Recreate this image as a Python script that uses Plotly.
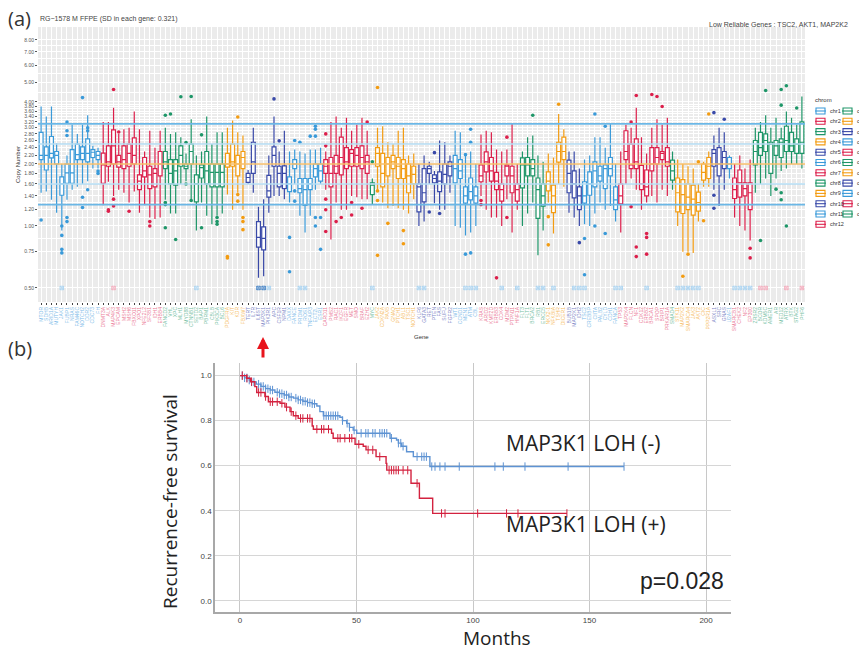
import bisect
import math
import plotly.graph_objects as go

W, H = 859, 648
def px(x): return x / W
def py(y): return 1 - y / H

# ---------------- panel (a) data ----------------
chrom_order = ['chr1','chr2','chr3','chr4','chr5','chr6','chr7','chr8','chr9','chr10','chr11','chr12',
               'chr13','chr14','chr15','chr16','chr17','chr18','chr19','chr20','chr21','chr22','chrX']
palette = ['#3A9AD9', '#DC1F4B', '#1E9668', '#F39C12', '#3949A8']
label_palette = ['#7FBDE9', '#EB7C97', '#76C0A3', '#F6BE66', '#8089C7']

gene_names = [
 'MTOR','SDHB','ARID1A','MUTYH','JAK1','FUBP1','NRAS','FAM46C','NOTCH2','DDR2','CDC73','FH',
 'DNMT3A','ALK','MAP4K3','EPCAM','MSH2','MSH6','FBXO11','XPO1','NFE2L2','SF3B1','IDH1','ERBB4',
 'FANCD2','VHL','XPC','MLH1','MYD88','CTNNB1','SETD2','BAP1','PBRM1','CBLB','PIK3CA','BCL6',
 'PDGFRA','KIT','KDR','FBXW7',
 'TERT','IL7R','IL6ST','MAP3K1','PIK3R1','APC','CSF1R','NPM1',
 'DAXX','FANCE','PRDM1','ROS1','TNFAIP3','ECT2L','ESR1',
 'CARD11','PMS2','RAC1','IKZF1','EGFR','MET','SMO','BRAF','EZH2',
 'MYC',
 'JAK2','CDKN2A','PAX5','GNAQ','PTCH1','ABL1','TSC1','NOTCH1',
 'KLF6','GATA3','RET','PTEN','FAS','SUFU','FGFR2',
 'WT1','CCND1','MEN1','ATM','CBL',
 'KRAS','ARID2','KMT2D','ERBB3','CDK4','MDM2','PTPN11','HNF1A',
 'FLT3','FLT1','BRCA2','RB1','ERCC5',
 'NKX2-1','NFKBIA','TSHR','DICER1',
 'BUB1B','MAP2K1','IDH2',
 'TSC2','CREBBP','CIITA','PALB2','CYLD','CDH1','FANCA',
 'TP53','MAP2K4','FLCN','NF1','CDK12','ERBB2','BRCA1','SPOP','BRIP1','PRKAR1A',
 'SMAD4',
 'STK11','MAP2K2','SMARCA4','JAK3','AKT2','CIC','PPP2R1A',
 'ASXL1','SRC','GNAS',
 'U2AF1',
 'SMARCB1','CHEK2','NF2','EP300',
 'ZRSR2','BCOR','KDM5C','AMER1','AR','MED12','ATRX','BTK','STAG2','PHF6']

gene_chrom = (['chr1']*12 + ['chr2']*12 + ['chr3']*12 + ['chr4']*4 + ['chr5']*8 + ['chr6']*7 +
              ['chr7']*9 + ['chr8']*1 + ['chr9']*8 + ['chr10']*7 + ['chr11']*5 + ['chr12']*8 +
              ['chr13']*5 + ['chr14']*4 + ['chr15']*3 + ['chr16']*7 + ['chr17']*10 + ['chr18']*1 +
              ['chr19']*7 + ['chr20']*3 + ['chr21']*1 + ['chr22']*4 + ['chrX']*10)

lower_whisker = [
 1.45,1.47,1.34,1.16,0.95,1.34,1.50,1.55,1.60,1.65,1.90,1.90,
 1.26,1.64,1.40,1.50,1.45,1.30,1.47,1.16,1.26,1.10,1.08,1.10,
 1.34,1.15,1.15,1.60,1.65,1.35,0.95,1.30,1.12,1.02,1.12,1.15,
 1.42,1.20,1.45,1.20,
 1.60,1.45,0.56,0.57,1.16,1.40,1.40,1.35,
 1.30,1.60,1.12,0.93,1.12,1.50,1.60,
 1.50,0.86,1.30,1.20,1.20,1.40,1.38,1.35,1.35,
 1.28,
 1.50,1.30,1.22,1.25,1.22,1.20,1.15,1.35,
 1.00,1.05,1.60,1.29,1.20,1.20,1.45,
 1.00,0.98,0.90,0.93,1.00,
 1.40,1.20,1.10,1.10,1.00,1.35,0.93,1.20,
 1.00,1.15,1.30,0.72,0.95,
 1.30,0.92,1.60,1.55,
 1.16,1.10,1.00,
 1.02,1.00,1.15,1.30,1.20,1.25,1.05,
 0.93,1.60,1.70,1.50,1.20,1.30,1.40,1.30,1.50,1.40,
 1.50,
 1.00,0.75,0.75,0.74,1.05,1.55,1.55,
 1.50,1.25,1.50,
 1.70,
 1.10,1.00,0.95,0.85,
 1.45,1.60,1.70,1.40,1.70,1.85,1.90,2.00,2.00,1.90]

q1_vals = [
 2.10,1.87,2.14,2.00,1.41,1.61,1.61,2.10,2.10,2.05,2.15,2.10,
 1.61,1.95,2.00,1.93,1.90,1.95,2.00,1.50,1.73,1.52,1.55,1.75,
 1.90,1.60,1.58,1.95,1.90,2.00,1.31,1.71,1.60,1.55,1.55,1.55,
 1.93,1.95,1.75,1.90,
 1.63,1.80,0.79,0.765,1.38,1.95,1.55,1.52,
 1.47,1.90,1.45,1.26,1.50,1.73,1.65,
 1.80,1.55,1.80,1.77,1.90,1.95,1.95,1.90,1.80,
 1.42,
 1.95,1.55,1.75,1.90,1.70,1.70,1.45,1.60,
 1.17,1.31,1.80,1.62,1.47,1.60,1.75,
 1.62,1.70,1.29,1.34,1.29,
 1.64,1.83,1.65,1.50,1.32,1.75,1.45,1.32,
 1.53,1.75,1.75,1.09,1.25,
 1.48,1.16,2.04,2.10,
 1.45,1.37,1.20,
 1.29,1.41,1.55,1.65,1.52,1.75,1.20,
 1.28,2.10,1.90,1.90,1.50,1.40,1.85,2.00,2.10,1.95,
 1.67,
 1.17,1.15,1.20,1.13,1.18,1.67,1.70,
 1.95,1.75,1.90,
 1.90,
 1.36,1.38,1.40,1.20,
 1.98,2.20,2.30,1.80,2.20,2.15,2.30,2.30,2.25,2.25]

median_vals = [
 2.20,2.20,2.25,2.20,1.60,1.81,1.81,2.22,2.25,2.25,2.28,2.20,
 1.98,2.05,2.45,2.05,2.10,2.25,2.20,1.65,1.85,1.77,1.80,2.00,
 2.05,1.80,1.85,2.20,1.95,2.30,1.60,1.92,1.85,1.82,1.82,1.82,
 2.00,2.05,2.00,2.15,
 1.72,2.05,0.88,0.87,1.48,2.20,1.80,1.80,
 1.60,2.00,1.52,1.50,1.60,1.90,1.85,
 1.95,1.80,1.95,2.15,2.05,2.25,2.20,2.15,2.05,
 1.58,
 2.25,1.80,2.00,2.05,1.95,1.90,1.75,1.78,
 1.55,1.45,1.90,1.70,1.65,1.78,1.95,
 1.90,1.85,1.40,1.47,1.40,
 1.75,2.05,1.85,1.65,1.50,1.95,1.75,1.50,
 1.98,1.98,1.90,1.50,1.40,
 1.65,1.40,2.30,2.30,
 1.80,1.60,1.40,
 1.40,1.60,1.85,1.75,1.90,1.90,1.34,
 1.40,2.30,1.98,2.05,1.60,1.55,2.00,2.15,2.25,2.05,
 1.85,
 1.45,1.42,1.38,1.35,1.30,1.82,1.95,
 2.25,2.00,2.15,
 2.00,
 1.50,1.62,1.52,1.45,
 2.30,2.40,2.60,2.50,2.45,2.55,2.60,2.45,2.50,2.55]

q3_vals = [
 2.85,2.42,2.72,2.30,1.73,2.00,2.35,2.50,2.42,2.65,2.35,2.30,
 2.26,2.45,2.93,2.20,2.45,2.50,2.68,1.77,2.15,1.95,1.90,2.30,
 2.30,2.10,2.10,2.45,2.00,2.50,1.77,1.98,2.30,2.00,2.00,2.00,
 2.25,2.50,2.20,2.30,
 1.80,2.55,1.05,0.99,1.76,2.42,1.95,1.96,
 1.73,2.10,1.70,1.70,1.70,2.00,2.00,
 2.10,2.15,2.20,2.70,2.40,2.35,2.40,2.45,2.20,
 1.62,
 2.40,2.25,2.15,2.20,2.15,2.10,2.00,1.95,
 1.60,1.90,1.95,1.77,1.83,2.00,2.05,
 2.20,2.10,1.55,1.71,1.55,
 1.98,2.29,2.15,1.82,1.60,1.98,1.95,1.60,
 2.14,2.15,2.10,1.71,1.60,
 1.83,1.58,2.55,2.70,
 2.09,1.85,1.55,
 1.64,1.83,2.05,1.95,1.98,2.15,1.55,
 1.60,2.90,2.50,2.65,1.97,1.87,2.40,2.40,2.30,2.40,
 2.09,
 1.71,1.68,1.60,1.58,1.46,2.00,2.15,
 2.35,2.40,2.30,
 2.15,
 1.71,1.87,1.62,1.62,
 2.60,2.85,2.80,2.55,2.60,2.65,3.05,2.85,2.65,3.20]

upper_whisker = [
 3.80,3.40,3.80,2.52,2.00,2.20,3.10,2.80,3.10,3.45,2.45,2.40,
 3.20,3.20,3.75,2.80,2.95,3.00,3.60,2.95,2.30,2.90,2.40,2.90,
 3.00,2.80,2.85,2.70,2.25,3.30,2.20,2.30,3.40,2.50,2.85,2.85,
 3.00,3.25,2.85,2.75,
 1.87,3.00,1.24,1.35,2.20,3.40,2.30,2.90,
 2.30,2.35,2.30,2.25,2.35,2.35,2.40,
 2.30,3.20,3.40,3.00,3.35,2.90,3.10,3.35,2.90,
 1.70,
 3.00,3.05,2.55,2.50,2.90,3.00,2.20,2.25,
 2.00,2.20,2.05,1.85,2.60,2.55,2.20,
 2.90,2.85,2.20,2.30,2.00,
 2.78,2.90,2.85,2.35,2.30,2.35,3.15,2.00,
 2.30,2.70,2.75,2.20,2.05,
 2.25,2.15,3.50,2.95,
 2.30,2.30,1.90,
 2.10,2.20,2.70,2.70,2.40,3.15,2.00,
 2.30,3.10,3.00,3.75,2.70,2.25,3.00,3.30,3.10,3.35,
 2.30,
 2.10,2.00,1.95,1.90,1.60,2.05,2.30,
 2.75,3.00,2.85,
 2.20,
 2.00,2.20,1.90,2.10,
 3.00,3.20,3.45,3.00,3.35,3.00,3.60,3.35,3.10,4.25]

outlier_genes = [
 'MTOR','JAK1','JAK1','JAK1','JAK1','FUBP1','FUBP1','FUBP1','FUBP1','FUBP1',
 'NOTCH2','NOTCH2','NOTCH2','DDR2','DDR2','DDR2','FH','FH',
 'ALK','ALK','MAP4K3','MAP4K3','MAP4K3','EPCAM','MSH6','SF3B1','SF3B1',
 'FANCD2','FANCD2','FANCD2','FANCD2','VHL','XPC','MLH1','MYD88','MYD88','CTNNB1','CTNNB1',
 'BAP1','BAP1','PIK3CA','PIK3CA','PIK3CA',
 'PDGFRA','PDGFRA','KDR','KDR','KDR','FBXW7','FBXW7','FBXW7',
 'APC','CSF1R',
 'DAXX','DAXX','FANCE','FANCE','FANCE','PRDM1','TNFAIP3','ECT2L','ECT2L','ECT2L','ECT2L','ECT2L',
 'ESR1','ESR1',
 'CARD11','CARD11','CARD11','CARD11','CARD11','RAC1','IKZF1','MET','MET','BRAF','EZH2',
 'MYC',
 'JAK2','JAK2','JAK2','JAK2','PAX5','ABL1','ABL1',
 'RET','PTEN','FAS',
 'MEN1','MEN1','ATM','ATM','ATM',
 'KRAS','KRAS','ERBB3','MDM2','MDM2',
 'BRCA2',
 'NKX2-1','NKX2-1','TSHR',
 'IDH2',
 'TSC2','TSC2','CIITA','CIITA','CYLD','CYLD',
 'FLCN','FLCN','NF1','NF1','NF1','ERBB2','ERBB2','ERBB2','BRCA1','SPOP','BRIP1',
 'MAP2K2','SMARCA4','AKT2','CIC','PPP2R1A',
 'ASXL1','ASXL1','ASXL1','GNAS',
 'EP300','EP300',
 'BCOR','KDM5C','AR','MED12','MED12','MED12','MED12','ATRX','ATRX','STAG2']
outlier_values = [
 1.07,1.00,0.90,0.77,0.74,3.20,2.90,2.75,1.10,1.05,
 4.20,1.38,1.23,3.00,2.90,1.50,1.85,1.80,
 1.20,1.18,4.60,1.35,1.25,2.86,1.18,1.05,1.00,
 3.45,1.30,1.27,0.98,3.50,0.86,4.24,2.54,1.60,4.25,1.33,
 2.77,0.98,1.10,1.05,1.02,
 0.71,0.70,3.38,1.42,1.32,1.10,1.05,0.96,
 4.14,2.59,
 0.88,0.60,2.60,1.48,1.32,2.55,2.73,3.05,2.95,2.73,1.10,1.00,
 1.10,0.77,
 2.80,2.45,1.35,1.20,0.94,1.05,1.10,1.30,1.13,1.22,3.20,
 2.05,
 4.70,1.48,1.33,0.72,1.03,0.95,0.82,
 1.17,2.27,1.15,
 0.73,2.22,0.74,2.95,2.55,
 1.33,1.27,0.56,2.70,1.10,
 3.45,
 1.11,0.81,3.90,
 0.83,
 0.87,0.58,3.50,1.00,3.05,0.92,
 3.20,1.24,4.30,0.79,0.71,0.92,0.88,0.73,4.35,4.25,3.80,
 0.57,0.73,2.05,1.06,3.50,
 3.55,1.41,1.22,3.30,
 0.78,0.70,
 0.85,4.55,1.51,4.60,3.86,1.45,1.34,4.80,1.00,3.74]

# genes with no reliable value, drawn as squares at the 0.50 floor
na_genes_light = ['JAK1','SETD2','PIK3R1','PRDM1','ROS1','MYC','KLF6','GATA3','MEN1','ATM','CBL','CDK4',
                  'HNF1A','RB1','ERCC5','NFKBIA','MAP2K1','IDH2','TSC2','FANCA','TP53','ERBB2',
                  'STK11','MAP2K2','SMARCA4','JAK3','AKT2','SMARCB1','CHEK2','NF2','EP300']
na_genes_dark = ['IL6ST','MAP3K1']
na_genes_pink = ['MAP4K3','BCOR','KDM5C','ATRX','PHF6']
na_floor = 0.5

ref_lines = [3.13, 2.5, 2.0, 1.6, 1.27]
ref_colors = ['#6BB7E6', '#B5DCF3', '#F6BE6A', '#B5DCF3', '#6BB7E6']
ref_widths = [1.6, 1.4, 1.4, 1.4, 1.6]

y_ticks = [0.5, 0.75, 1.0, 1.2, 1.4, 1.6, 1.8, 2.0, 2.2, 2.4, 2.6, 2.8, 3.0, 3.2, 3.4, 3.6, 3.8, 4.0, 5.0, 6.0, 7.0, 8.0]

# ---------------- panel (b) data ----------------
neg_times = [0, 2, 4, 5, 7, 9, 11, 13, 15, 17, 19, 21, 23, 25, 27, 29, 31, 33, 34.3, 35.8, 42.9, 44, 45.8,
             47, 48.6, 50.1, 64.4, 67.2, 68, 69.4, 71.5, 74.4, 81.5]
neg_surv = [1.0, 0.99, 0.98, 0.972, 0.962, 0.952, 0.942, 0.936, 0.926, 0.92, 0.914, 0.905, 0.9, 0.892,
            0.886, 0.88, 0.875, 0.865, 0.84, 0.822, 0.815, 0.80, 0.788, 0.77, 0.758, 0.744, 0.722, 0.714,
            0.70, 0.686, 0.662, 0.64, 0.596]
neg_end = 164.8
neg_censor = [1, 2, 3, 4, 5, 6, 8, 9, 10, 11, 12, 13, 14, 16, 17, 18, 19, 20, 21, 22, 24, 25, 26, 27, 28,
              29, 30, 31, 32, 36, 37, 38, 39, 40, 41, 42, 44, 46, 47, 49, 52, 54, 55, 57, 58, 60, 61, 62,
              63, 65, 68, 69, 70, 76, 78, 79, 80, 82.3, 83.7, 85.8, 88, 94.1, 109.4, 113, 122.3, 140.8, 164.8]

pos_times = [0, 2.9, 4.5, 6.4, 7.2, 10.7, 12.2, 17.2, 19.3, 21.5, 22.9, 25, 31, 31.5, 39.3, 40, 49.4,
             52.9, 54.1, 58.4, 62.7, 63, 73.4, 77, 82.7]
pos_surv = [1.0, 0.988, 0.973, 0.951, 0.925, 0.907, 0.884, 0.877, 0.86, 0.84, 0.822, 0.81, 0.776, 0.762,
            0.744, 0.722, 0.695, 0.686, 0.67, 0.64, 0.61, 0.58, 0.522, 0.455, 0.388]
pos_end = 140.3
pos_censor = [1, 3, 5, 8, 9, 11, 13, 14, 16, 18, 20, 22, 24, 26, 27, 29, 30, 33, 35, 36, 38, 42, 43, 45,
              47, 48, 51, 55, 57, 60, 64, 65, 66, 67, 68, 70, 72, 76, 86.5, 88, 102, 114.4, 119.3, 140.3]

# ---------------- build figure ----------------
fig = go.Figure()
chrom_color = {c: palette[i % 5] for i, c in enumerate(chrom_order)}
chrom_label_color = {c: label_palette[i % 5] for i, c in enumerate(chrom_order)}

for c in chrom_order:
    idx = [i for i, g in enumerate(gene_chrom) if g == c]
    fig.add_trace(go.Box(
        x=[gene_names[i] for i in idx],
        q1=[q1_vals[i] for i in idx], median=[median_vals[i] for i in idx],
        q3=[q3_vals[i] for i in idx], lowerfence=[lower_whisker[i] for i in idx],
        upperfence=[upper_whisker[i] for i in idx],
        width=0.75, whiskerwidth=0, boxpoints=False,
        line=dict(color=chrom_color[c], width=1.2), fillcolor='rgba(255,255,255,0.85)',
        showlegend=False, xaxis='x', yaxis='y', hoverinfo='skip'))

gene_to_chrom = dict(zip(gene_names, gene_chrom))
for c in chrom_order:
    xs = [g for g, v in zip(outlier_genes, outlier_values) if gene_to_chrom[g] == c]
    ys = [v for g, v in zip(outlier_genes, outlier_values) if gene_to_chrom[g] == c]
    if xs:
        fig.add_trace(go.Scatter(x=xs, y=ys, mode='markers', marker=dict(color=chrom_color[c], size=3.6),
                                 showlegend=False, xaxis='x', yaxis='y', hoverinfo='skip'))

for genes, col in [(na_genes_light, '#A9D4F2'), (na_genes_dark, '#3E7FC4'), (na_genes_pink, '#F4AABB')]:
    fig.add_trace(go.Scatter(x=genes, y=[na_floor]*len(genes), mode='markers',
                             marker=dict(symbol='square-x-open', color=col, size=3.5, line=dict(width=0.9, color=col)),
                             showlegend=False, xaxis='x', yaxis='y', hoverinfo='skip'))

# KM curves
def km_trace(times, surv, end, color):
    return go.Scatter(x=times + [end], y=surv + [surv[-1]], mode='lines', line=dict(color=color, width=1.4, shape='hv'),
                      showlegend=False, xaxis='x2', yaxis='y2', hoverinfo='skip')

def censor_trace(times, surv, ctimes, color):
    ys = [surv[max(0, bisect.bisect_right(times, t) - 1)] for t in ctimes]
    return go.Scatter(x=ctimes, y=ys, mode='markers',
                      marker=dict(symbol='line-ns', size=6, line=dict(width=1, color=color)),
                      showlegend=False, xaxis='x2', yaxis='y2', hoverinfo='skip')

blue, red = '#5E93D3', '#D3223F'
fig.add_trace(km_trace(neg_times, neg_surv, neg_end, blue))
fig.add_trace(censor_trace(neg_times, neg_surv, neg_censor, blue))
fig.add_trace(km_trace(pos_times, pos_surv, pos_end, red))
fig.add_trace(censor_trace(pos_times, pos_surv, pos_censor, red))

ticktext = ['<span style="color:%s">%s</span>' % (chrom_label_color[c], g) for g, c in zip(gene_names, gene_chrom)]
minor_vals = [math.sqrt(a * b) for a, b in zip(y_ticks[:-1], y_ticks[1:])]

shapes = [
    dict(type='rect', xref='x domain', yref='y domain', x0=0, x1=1, y0=0, y1=1,
         fillcolor='#EBEBEB', line=dict(width=0), layer='below'),
]
for v, c, w in zip(ref_lines, ref_colors, ref_widths):
    shapes.append(dict(type='line', xref='x domain', yref='y', x0=0, x1=1, y0=v, y1=v,
                       line=dict(color=c, width=w), layer='above'))

# manual chromosome legend
leg_x = [816, 843]
for k, c in enumerate(chrom_order):
    col = k // 12
    row = k % 12
    yc = 111 + 10.3 * row
    x0 = leg_x[col]
    shapes.append(dict(type='rect', xref='paper', yref='paper', x0=px(x0), x1=px(x0 + 9),
                       y0=py(yc + 3), y1=py(yc - 3), line=dict(color=chrom_color[c], width=1.1),
                       fillcolor='white'))
    shapes.append(dict(type='line', xref='paper', yref='paper', x0=px(x0 - 1), x1=px(x0 + 10),
                       y0=py(yc), y1=py(yc), line=dict(color=chrom_color[c], width=1.1)))

annotations = []
for k, c in enumerate(chrom_order):
    col = k // 12
    row = k % 12
    yc = 111 + 10.3 * row
    annotations.append(dict(xref='paper', yref='paper', x=px(leg_x[col] + 12), y=py(yc), text=c,
                            showarrow=False, xanchor='left', yanchor='middle',
                            font=dict(size=5.5, color='#333', family='Liberation Sans')))
annotations += [
    dict(xref='paper', yref='paper', x=px(813), y=py(100), text='chrom', showarrow=False,
         xanchor='left', yanchor='middle', font=dict(size=6, color='#333', family='Liberation Sans')),
    dict(xref='paper', yref='paper', x=px(6), y=py(18), text='(a)', showarrow=False,
         xanchor='left', yanchor='middle', font=dict(size=20, color='#333', family='Open Sans')),
    dict(xref='paper', yref='paper', x=px(6), y=py(348), text='(b)', showarrow=False,
         xanchor='left', yanchor='middle', font=dict(size=20, color='#333', family='Open Sans')),
    dict(xref='paper', yref='paper', x=px(38), y=py(19), text='RG\u22121578 M FFPE (SD in each gene: 0.321)',
         showarrow=False, xanchor='left', yanchor='middle', font=dict(size=7, color='#444', family='Liberation Sans')),
    dict(xref='paper', yref='paper', x=px(850), y=py(25), text='Low Reliable Genes : TSC2, AKT1, MAP2K2',
         showarrow=False, xanchor='right', yanchor='middle', font=dict(size=7, color='#444', family='Liberation Sans')),
    dict(xref='paper', yref='paper', x=px(18), y=py(165), text='Copy Number', textangle=-90,
         showarrow=False, xanchor='center', yanchor='middle', font=dict(size=6, color='#333', family='Liberation Sans')),
    dict(xref='paper', yref='paper', x=px(421), y=py(337), text='Gene',
         showarrow=False, xanchor='center', yanchor='middle', font=dict(size=6, color='#333', family='Liberation Sans')),
    dict(xref='paper', yref='paper', x=px(263), y=py(337), ax=0, ay=22, text='', showarrow=True,
         arrowhead=2, arrowsize=0.8, arrowwidth=3, arrowcolor='#E8141C'),
    dict(xref='paper', yref='paper', x=px(170), y=py(502), text='Recurrence-free survival', textangle=-90,
         showarrow=False, xanchor='center', yanchor='middle', font=dict(size=19, color='#222', family='Open Sans')),
    dict(xref='paper', yref='paper', x=px(497), y=py(638), text='Months',
         showarrow=False, xanchor='center', yanchor='middle', font=dict(size=19, color='#222', family='Open Sans')),
    dict(xref='paper', yref='paper', x=px(504), y=py(443), text='MAP3K1 LOH (-)',
         showarrow=False, xanchor='left', yanchor='middle', font=dict(size=21, color='#222', family='Open Sans')),
    dict(xref='paper', yref='paper', x=px(504), y=py(524), text='MAP3K1 LOH (+)',
         showarrow=False, xanchor='left', yanchor='middle', font=dict(size=21, color='#222', family='Open Sans')),
    dict(xref='paper', yref='paper', x=px(726), y=py(581), text='p=0.028',
         showarrow=False, xanchor='right', yanchor='middle', font=dict(size=23, color='#222', family='Liberation Sans')),
]

fig.update_layout(
    width=W, height=H, paper_bgcolor='white', plot_bgcolor='rgba(0,0,0,0)',
    margin=dict(l=0, r=0, t=0, b=0, autoexpand=False),
    boxmode='overlay', showlegend=False,
    shapes=shapes, annotations=annotations,
    xaxis=dict(domain=[px(38), px(805)], anchor='y', type='category', categoryorder='array',
               categoryarray=gene_names, tickmode='array', tickvals=gene_names, ticktext=ticktext,
               tickangle=-90, tickfont=dict(size=5, family='Liberation Sans'), range=[-0.6, 147.6],
               showgrid=True, gridcolor='white', gridwidth=0.8, ticks='outside', ticklen=2,
               tickcolor='#444', tickwidth=0.6, showline=False, zeroline=False),
    yaxis=dict(domain=[py(302), py(27)], anchor='x', type='log',
               range=[math.log10(0.4275), math.log10(9.25)], tickmode='array', tickvals=y_ticks,
               ticktext=['%.2f' % v for v in y_ticks], tickfont=dict(size=5, color='#555', family='Liberation Sans'),
               showgrid=True, gridcolor='white', gridwidth=0.8, ticks='outside', ticklen=2,
               tickcolor='#555', tickwidth=0.6, zeroline=False, showline=False,
               minor=dict(tickmode='array', tickvals=minor_vals, showgrid=True, gridcolor='white', gridwidth=0.4)),
    xaxis2=dict(domain=[px(215), px(731)], anchor='y2', range=[-10.7, 210.7], tickmode='array',
                tickvals=[0, 50, 100, 150, 200], ticks='', tickfont=dict(size=8, color='#444', family='Liberation Sans'),
                showgrid=True, gridcolor='#C8C8C8', gridwidth=1.3, zeroline=False,
                showline=True, linecolor='#A8A8A8', linewidth=1.5),
    yaxis2=dict(domain=[py(612), py(363)], anchor='x2', range=[-0.05, 1.056], tickmode='array',
                tickvals=[0, 0.2, 0.4, 0.6, 0.8, 1.0], ticktext=['0.0', '0.2', '0.4', '0.6', '0.8', '1.0'],
                ticks='', tickfont=dict(size=8, color='#444', family='Liberation Sans'),
                showgrid=True, gridcolor='#D6D6D6', gridwidth=1.2, zeroline=False,
                showline=True, linecolor='#A8A8A8', linewidth=1.5),
)

fig.write_html('out.html', config={'displayModeBar': False},
               post_script="document.body.style.margin='0px';document.body.style.padding='0px';")
